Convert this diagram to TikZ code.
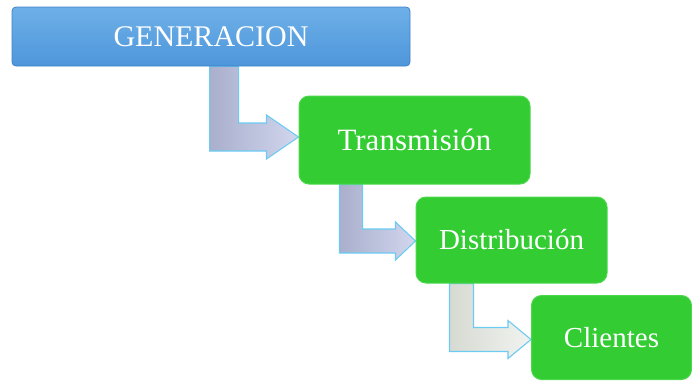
\documentclass[tikz,border=0pt]{standalone}
\usepackage{fontspec}
\setmainfont{Liberation Serif}
\usetikzlibrary{calc,backgrounds}
\definecolor{genblueT}{HTML}{6EB0E8}
\definecolor{genblueB}{HTML}{4E96DB}
\definecolor{genedge}{HTML}{3F82C6}
\definecolor{boxgreen}{HTML}{33CC33}
\definecolor{greenedge}{HTML}{4CD84C}
\definecolor{arrowedge}{HTML}{6CCBF2}
\definecolor{lavL}{HTML}{A9AFCC}
\definecolor{lavR}{HTML}{D2D6EE}
\definecolor{grayL}{HTML}{D6DAD2}
\definecolor{grayR}{HTML}{F2F3F0}
\tikzset{
  genbox/.style={rectangle, rounded corners=4pt, top color=genblueT, bottom color=genblueB,
    draw=genedge, line width=0.8pt, text=white, minimum width=398pt, minimum height=59pt,
    inner sep=0pt, font=\fontsize{30}{32}\selectfont},
  stagebox/.style={rectangle, rounded corners=10pt, fill=boxgreen, draw=greenedge,
    line width=1pt, text=white, inner sep=0pt},
  bendarrow/.style={draw=arrowedge, line width=1.1pt, line join=miter, left color=lavL, right color=lavR},
  bendarrowgray/.style={draw=arrowedge, line width=1.1pt, line join=miter, left color=grayL, right color=grayR},
}
\begin{document}
\begin{tikzpicture}[x=1pt,y=-1pt]
\useasboundingbox (0,0) rectangle (692,381);
% nodes
\node[genbox] (gen) at (211,36.5) {GENERACION};
\node[stagebox, minimum width=231pt, minimum height=88pt, font=\fontsize{31}{33}\selectfont] (trans) at (414.5,140) {Transmisión};
\node[stagebox, minimum width=191pt, minimum height=86pt, font=\fontsize{29}{31}\selectfont] (dist) at (511.5,240) {Distribución};
\node[stagebox, minimum width=160pt, minimum height=84pt, font=\fontsize{29}{31}\selectfont] (cli) at (611.5,337.5) {Clientes};
% connectors (bent block arrows), drawn behind the boxes
\path ($(gen.south west)+(198,0)$) coordinate (a1s);
\path ($(trans.west)+(0,-3)$) coordinate (t1);
\path ($(trans.south west)+(41,0)$) coordinate (a2s);
\path ($(dist.west)+(0,1)$) coordinate (t2);
\path ($(dist.south west)+(34,0)$) coordinate (a3s);
\path ($(cli.west)+(0,2)$) coordinate (t3);
\begin{scope}[on background layer]
\draw[bendarrow] (a1s) -- ++(29,0) |- ($(t1)+(-32,-14)$) -- ++(0,-8) -- (t1) -- ++(-32,22) -- ++(0,-8) -| (a1s) -- cycle;
\draw[bendarrow] (a2s) -- ++(23,0) |- ($(t2)+(-20,-12)$) -- ++(0,-7) -- (t2) -- ++(-20,19) -- ++(0,-7) -| (a2s) -- cycle;
\draw[bendarrowgray] (a3s) -- ++(24,0) |- ($(t3)+(-23,-12)$) -- ++(0,-7) -- (t3) -- ++(-23,19) -- ++(0,-7) -| (a3s) -- cycle;
\end{scope}
\end{tikzpicture}
\end{document}
